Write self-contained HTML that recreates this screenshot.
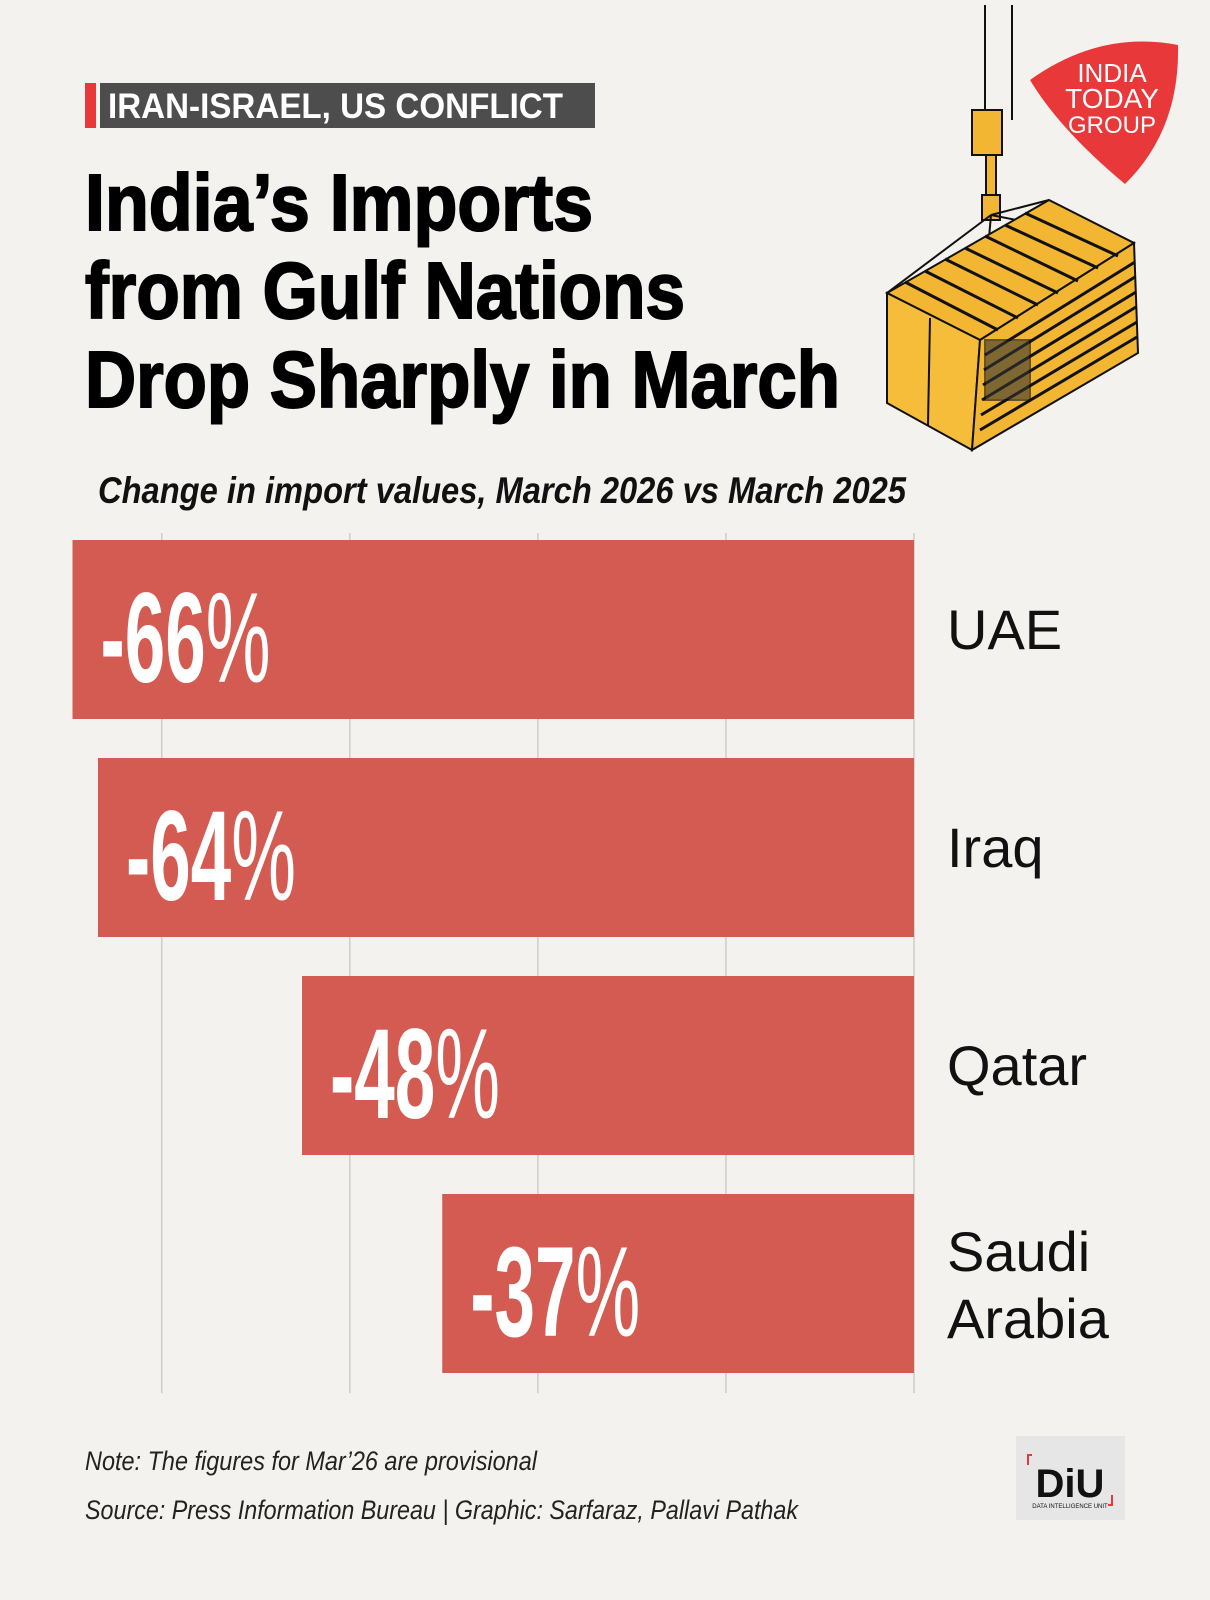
<!DOCTYPE html>
<html><head><meta charset="utf-8"><style>
html,body{margin:0;padding:0;background:#f4f2ee;}
svg{display:block;}
</style></head><body>
<svg id="chart" width="1210" height="1600" viewBox="0 0 1210 1600" xmlns="http://www.w3.org/2000/svg" font-family="Liberation Sans, sans-serif">
<rect x="0" y="0" width="1210" height="1600" fill="#f4f2ee"/>
<g>
<rect x="85" y="83" width="11" height="45" fill="#e8383a"/>
<rect x="100" y="83" width="495" height="45" fill="#4d4d4d"/>
<text x="108" y="118" font-family="Liberation Sans Narrow, Liberation Sans, sans-serif" font-weight="bold" font-size="35" fill="#fff" textLength="455" lengthAdjust="spacingAndGlyphs">IRAN-ISRAEL, US CONFLICT</text>
</g>
<g font-weight="bold" font-size="80" fill="#000" stroke="#000" stroke-width="2">
<text x="85" y="230" textLength="508" lengthAdjust="spacingAndGlyphs">India’s Imports</text>
<text x="85" y="318" textLength="600" lengthAdjust="spacingAndGlyphs">from Gulf Nations</text>
<text x="85" y="407" textLength="755" lengthAdjust="spacingAndGlyphs">Drop Sharply in March</text>
</g>
<g stroke="#111" stroke-width="2">
<line x1="985" y1="5" x2="985" y2="120"/><line x1="1012" y1="5" x2="1012" y2="120"/>
<rect x="972" y="110" width="30" height="45" fill="#f2b632"/>
<rect x="986" y="155" width="10" height="50" fill="#f2b632"/>
<rect x="982" y="195" width="18" height="25" fill="#f2b632"/>
<line x1="991" y1="215" x2="887" y2="293"/><line x1="991" y1="215" x2="1049" y2="200"/><line x1="991" y1="215" x2="980" y2="340"/><line x1="991" y1="215" x2="1134" y2="243"/>
<polygon points="887,293 1049,200 1134,243 980,340" fill="#f2b632"/>
<polygon points="887,293 980,340 972,450 887,403" fill="#f6bd3a"/>
<polygon points="980,340 1134,243 1138,353 972,450" fill="#f2b632"/>
<g stroke-width="3">
<line x1="985" y1="355" x2="1135" y2="262"/><line x1="984" y1="370" x2="1135" y2="277"/><line x1="983" y1="385" x2="1136" y2="292"/><line x1="982" y1="400" x2="1136" y2="307"/><line x1="981" y1="415" x2="1137" y2="322"/><line x1="980" y1="430" x2="1137" y2="337"/>
<line x1="905" y1="282" x2="998" y2="330"/><line x1="925" y1="271" x2="1018" y2="318"/><line x1="945" y1="259" x2="1038" y2="305"/><line x1="965" y1="248" x2="1058" y2="293"/><line x1="985" y1="236" x2="1078" y2="281"/><line x1="1005" y1="225" x2="1098" y2="268"/><line x1="1025" y1="213" x2="1118" y2="256"/>
</g>
<rect x="985" y="340" width="45" height="60" fill="#333" opacity="0.6"/>
<line x1="930" y1="318" x2="928" y2="425"/>
</g>
<g>
<path d="M1030,80 Q1100,30 1178,45 Q1180,130 1125,184 Q1060,130 1030,80 Z" fill="#e8383a"/>
<text x="1112" y="82" text-anchor="middle" font-family="Liberation Sans Narrow, sans-serif" font-size="26" fill="#fff">INDIA</text>
<text x="1112" y="108" text-anchor="middle" font-family="Liberation Sans Narrow, sans-serif" font-size="28" fill="#fff">TODAY</text>
<text x="1112" y="133" text-anchor="middle" font-family="Liberation Sans Narrow, sans-serif" font-size="24" fill="#fff">GROUP</text>
</g>
<text x="98" y="503" font-family="Liberation Sans Narrow, Liberation Sans, sans-serif" font-style="italic" font-weight="bold" font-size="37" fill="#111" textLength="808" lengthAdjust="spacingAndGlyphs">Change in import values, March 2026 vs March 2025</text>
<g id="grid"></g>
<g id="bars"></g>
<g font-family="Liberation Sans Narrow, Liberation Sans, sans-serif" font-style="italic" font-size="27" fill="#222">
<text x="85" y="1470" textLength="452" lengthAdjust="spacingAndGlyphs">Note: The figures for Mar’26 are provisional</text>
<text x="85" y="1519" textLength="713" lengthAdjust="spacingAndGlyphs">Source: Press Information Bureau | Graphic:  Sarfaraz, Pallavi Pathak</text>
</g>
<g>
<rect x="1016" y="1436" width="109" height="84" fill="#e6e6e6"/>
<text x="1070" y="1497" text-anchor="middle" font-weight="bold" font-size="40" fill="#111">DiU</text>
<text x="1070" y="1508" text-anchor="middle" font-size="6" fill="#111">DATA INTELLIGENCE UNIT</text>
<path d="M1032,1455 h-4 v10 M1108,1505 h4 v-10" stroke="#e8383a" stroke-width="2" fill="none"/>
</g>
</svg>
<script>
const categories = ["UAE", "Iraq", "Qatar", "Saudi Arabia"];
const values = [-66, -64, -48, -37];
const valueLabels = ["-66", "-64", "-48", "-37"];
const gridTicks = [0, -14.75, -29.5, -44.25, -59];

const NS = "http://www.w3.org/2000/svg";
const zeroX = 914, pxPer = 12.75;
const xScale = v => zeroX + v * pxPer;
const top0 = 540, pitch = 218, barH = 179;
const yScale = i => top0 + i * pitch;

const grid = document.getElementById('grid');
gridTicks.forEach(t => {
  const l = document.createElementNS(NS, 'line');
  
  
  l.setAttribute('x1', xScale(t)); l.setAttribute('x2', xScale(t));
  l.setAttribute('y1', 533); l.setAttribute('y2', 1393);
  l.setAttribute('stroke', '#cfcdca'); l.setAttribute('stroke-width', '1.5');
  grid.appendChild(l);
});

const bars = document.getElementById('bars');
categories.forEach((c, i) => {
  const x0 = xScale(values[i]), y0 = yScale(i);
  const r = document.createElementNS(NS, 'rect');
  
  
  r.setAttribute('x', x0); r.setAttribute('y', y0);
  r.setAttribute('width', zeroX - x0); r.setAttribute('height', barH);
  r.setAttribute('fill', '#d45b51');
  bars.appendChild(r);

  const t = document.createElementNS(NS, 'text');
  
  
  t.setAttribute('x', x0 + 28); t.setAttribute('y', y0 + 142);
  t.setAttribute('fill', '#fff');
  t.setAttribute('font-family', 'Liberation Sans Narrow, Liberation Sans, sans-serif');
  t.setAttribute('font-size', '128');
  t.setAttribute('font-weight', 'bold');
  t.setAttribute('textLength', '170');
  t.setAttribute('lengthAdjust', 'spacingAndGlyphs');
  const a = document.createElementNS(NS, 'tspan'); a.textContent = valueLabels[i];
  const b = document.createElementNS(NS, 'tspan'); b.textContent = '%'; b.setAttribute('font-weight', 'normal');
  t.appendChild(a); t.appendChild(b);
  bars.appendChild(t);

  const parts = c.split(' ');
  const n = document.createElementNS(NS, 'text');
  
  
  n.setAttribute('x', 947);
  n.setAttribute('font-size', '56'); n.setAttribute('fill', '#111');
  const base = parts.length > 1 ? y0 + 77 : y0 + 109;
  parts.forEach((p, k) => {
    const s = document.createElementNS(NS, 'tspan');
    s.setAttribute('x', 947); s.setAttribute('y', base + k * 67);
    s.textContent = p; n.appendChild(s);
  });
  bars.appendChild(n);
});
</script>
</body></html>
